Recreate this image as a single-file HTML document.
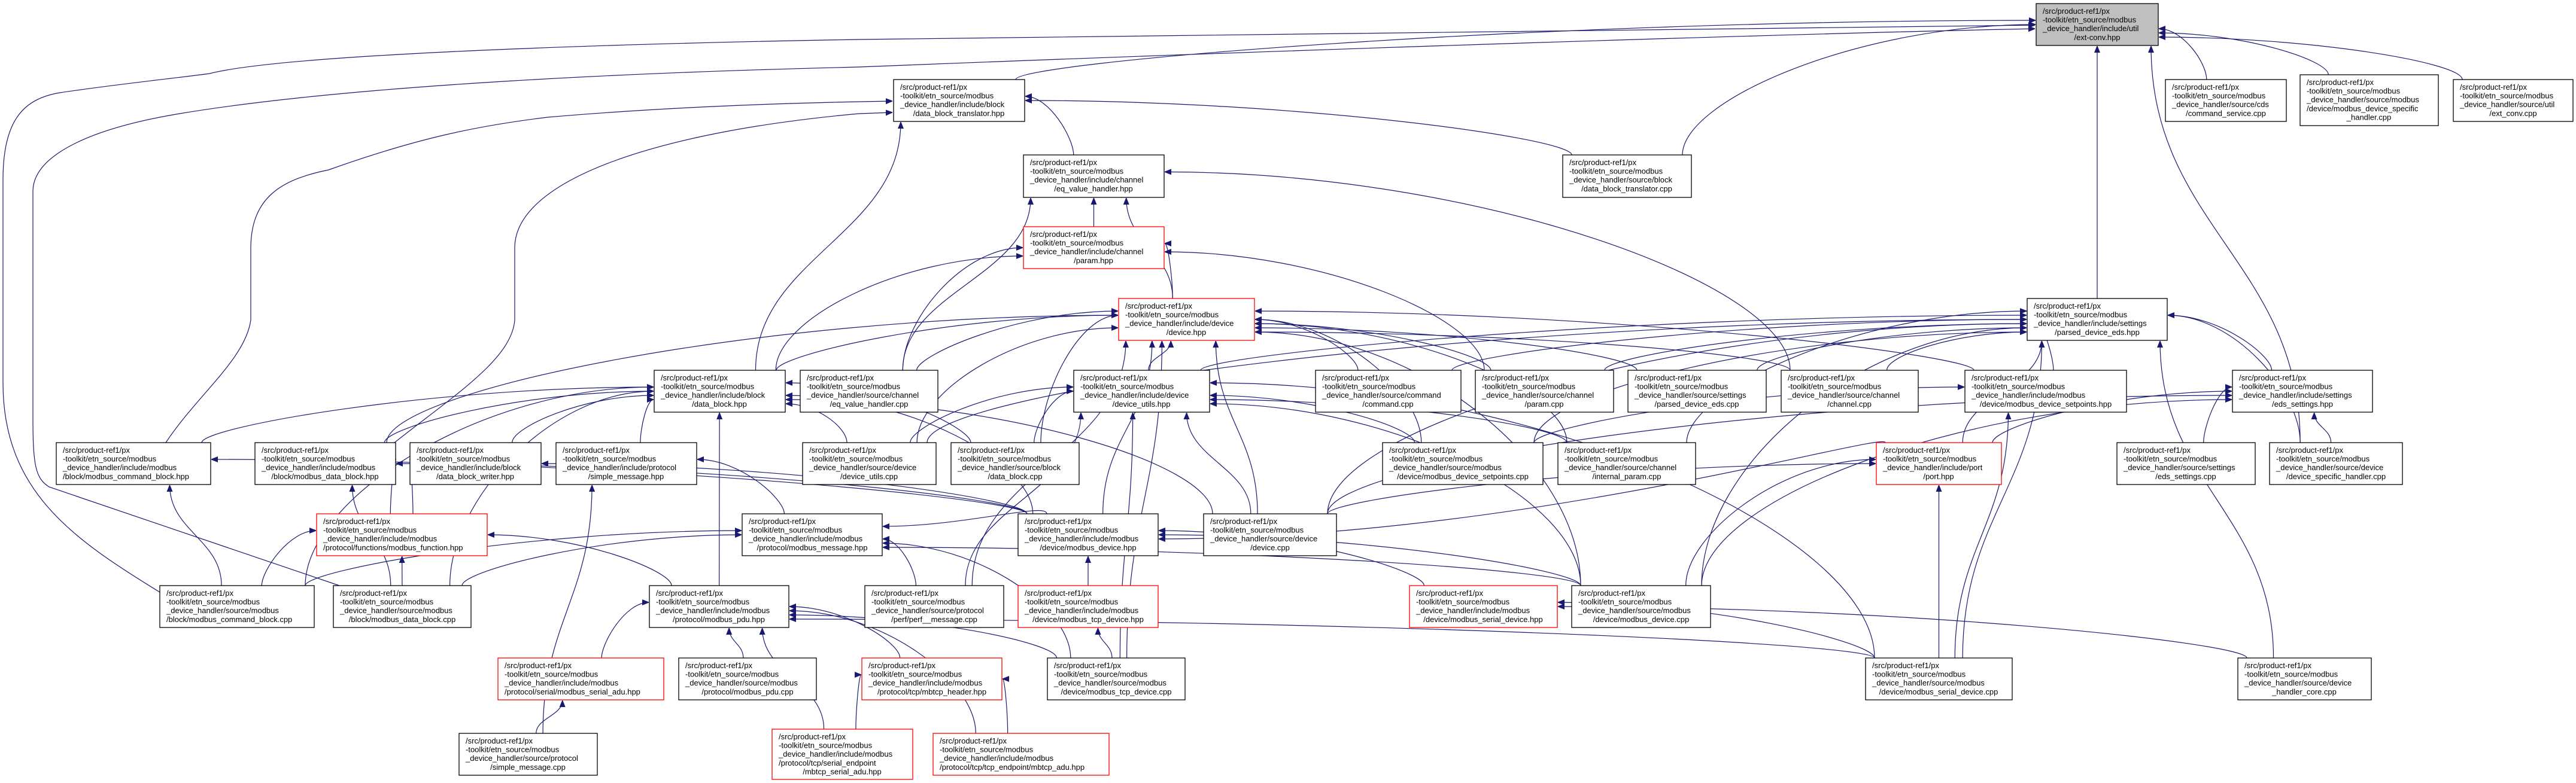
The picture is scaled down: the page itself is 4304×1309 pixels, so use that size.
<!DOCTYPE html>
<html><head><meta charset="utf-8"><style>
html,body{margin:0;padding:0;background:#fff;}
svg{display:block;}
text{font-family:"Liberation Sans",sans-serif;font-size:13px;fill:#000;}
.b{fill:#fff;stroke:#000;stroke-width:1.3;}
.r{fill:#fff;stroke:#ff0000;stroke-width:1.3;}
.g{fill:#bfbfbf;stroke:#000;stroke-width:1.3;}
.e{fill:none;stroke:#191970;stroke-width:1.2;}
</style></head><body>
<svg id="s" width="4304" height="1309" viewBox="0 0 4304 1309" xmlns="http://www.w3.org/2000/svg">
<defs><marker id="a" viewBox="0 0 10 10" refX="10" refY="5" markerWidth="11" markerHeight="11" markerUnits="userSpaceOnUse" orient="auto"><path d="M0,1 L10,5 L0,9 z" fill="#191970" stroke="#191970"/></marker></defs>
<g id="custom">
<path class="e" marker-end="url(#a)" d="M267,990 C120,900 5,820 5,640 L5,300 C5,200 40,165 100,155 C200,140 300,130 350,123 C500,85 1200,70 1435,66 C2500,48 3200,42 3400,42"/>
<path class="e" marker-end="url(#a)" d="M567,979 L82,814 C60,800 55,780 55,700 L55,320 C55,260 150,215 300,190 C600,140 1100,120 1435,112 C2500,70 3200,52 3400,48"/>
<path class="e" marker-end="url(#a)" d="M277,740 C330,660 410,600 419,535 L419,413 C420,330 470,300 549,284 C700,230 800,210 915,196 C1100,180 1300,172 1491,169"/>
<path class="e" marker-end="url(#a)" d="M659,740 C760,660 855,600 860,535 L860,413 C862,300 1100,220 1435,190 L1491,188"/>
</g>
<g id="edges"></g>
<g id="nodes">
<rect class="g" x="3402" y="6" width="204" height="70"/><text x="3413" y="23">/src/product-ref1/px</text><text x="3413" y="37.6">-toolkit/etn_source/modbus</text><text x="3413" y="52.2">_device_handler/include/util</text><text x="3504" y="66.8" text-anchor="middle">/ext-conv.hpp</text>
<rect class="b" x="1493" y="133" width="219" height="70"/><text x="1504" y="150">/src/product-ref1/px</text><text x="1504" y="164.6">-toolkit/etn_source/modbus</text><text x="1504" y="179.2">_device_handler/include/block</text><text x="1602" y="193.8" text-anchor="middle">/data_block_translator.hpp</text>
<rect class="b" x="3618" y="133" width="202" height="70"/><text x="3629" y="150">/src/product-ref1/px</text><text x="3629" y="164.6">-toolkit/etn_source/modbus</text><text x="3629" y="179.2">_device_handler/source/cds</text><text x="3719" y="193.8" text-anchor="middle">/command_service.cpp</text>
<rect class="b" x="3843" y="125" width="231" height="85"/><text x="3854" y="142">/src/product-ref1/px</text><text x="3854" y="156.6">-toolkit/etn_source/modbus</text><text x="3854" y="171.2">_device_handler/source/modbus</text><text x="3854" y="185.8">/device/modbus_device_specific</text><text x="3958" y="200.4" text-anchor="middle">_handler.cpp</text>
<rect class="b" x="4099" y="133" width="200" height="70"/><text x="4110" y="150">/src/product-ref1/px</text><text x="4110" y="164.6">-toolkit/etn_source/modbus</text><text x="4110" y="179.2">_device_handler/source/util</text><text x="4199" y="193.8" text-anchor="middle">/ext_conv.cpp</text>
<rect class="b" x="1710" y="259" width="235" height="71"/><text x="1721" y="276">/src/product-ref1/px</text><text x="1721" y="290.6">-toolkit/etn_source/modbus</text><text x="1721" y="305.2">_device_handler/include/channel</text><text x="1827" y="319.8" text-anchor="middle">/eq_value_handler.hpp</text>
<rect class="b" x="2611" y="259" width="215" height="71"/><text x="2622" y="276">/src/product-ref1/px</text><text x="2622" y="290.6">-toolkit/etn_source/modbus</text><text x="2622" y="305.2">_device_handler/source/block</text><text x="2718" y="319.8" text-anchor="middle">/data_block_translator.cpp</text>
<rect class="r" x="1710" y="379" width="235" height="70"/><text x="1721" y="396">/src/product-ref1/px</text><text x="1721" y="410.6">-toolkit/etn_source/modbus</text><text x="1721" y="425.2">_device_handler/include/channel</text><text x="1827" y="439.8" text-anchor="middle">/param.hpp</text>
<rect class="r" x="1869" y="499" width="227" height="70"/><text x="1880" y="516">/src/product-ref1/px</text><text x="1880" y="530.6">-toolkit/etn_source/modbus</text><text x="1880" y="545.2">_device_handler/include/device</text><text x="1982" y="559.8" text-anchor="middle">/device.hpp</text>
<rect class="b" x="3387" y="499" width="234" height="70"/><text x="3398" y="516">/src/product-ref1/px</text><text x="3398" y="530.6">-toolkit/etn_source/modbus</text><text x="3398" y="545.2">_device_handler/include/settings</text><text x="3504" y="559.8" text-anchor="middle">/parsed_device_eds.hpp</text>
<rect class="b" x="1093" y="619" width="219" height="70"/><text x="1104" y="636">/src/product-ref1/px</text><text x="1104" y="650.6">-toolkit/etn_source/modbus</text><text x="1104" y="665.2">_device_handler/include/block</text><text x="1202" y="679.8" text-anchor="middle">/data_block.hpp</text>
<rect class="b" x="1337" y="619" width="230" height="70"/><text x="1348" y="636">/src/product-ref1/px</text><text x="1348" y="650.6">-toolkit/etn_source/modbus</text><text x="1348" y="665.2">_device_handler/source/channel</text><text x="1452" y="679.8" text-anchor="middle">/eq_value_handler.cpp</text>
<rect class="b" x="1794" y="619" width="227" height="70"/><text x="1805" y="636">/src/product-ref1/px</text><text x="1805" y="650.6">-toolkit/etn_source/modbus</text><text x="1805" y="665.2">_device_handler/include/device</text><text x="1907" y="679.8" text-anchor="middle">/device_utils.hpp</text>
<rect class="b" x="2198" y="619" width="243" height="70"/><text x="2209" y="636">/src/product-ref1/px</text><text x="2209" y="650.6">-toolkit/etn_source/modbus</text><text x="2209" y="665.2">_device_handler/source/command</text><text x="2319" y="679.8" text-anchor="middle">/command.cpp</text>
<rect class="b" x="2465" y="619" width="231" height="70"/><text x="2476" y="636">/src/product-ref1/px</text><text x="2476" y="650.6">-toolkit/etn_source/modbus</text><text x="2476" y="665.2">_device_handler/source/channel</text><text x="2580" y="679.8" text-anchor="middle">/param.cpp</text>
<rect class="b" x="2720" y="619" width="231" height="70"/><text x="2731" y="636">/src/product-ref1/px</text><text x="2731" y="650.6">-toolkit/etn_source/modbus</text><text x="2731" y="665.2">_device_handler/source/settings</text><text x="2835" y="679.8" text-anchor="middle">/parsed_device_eds.cpp</text>
<rect class="b" x="2976" y="619" width="229" height="70"/><text x="2987" y="636">/src/product-ref1/px</text><text x="2987" y="650.6">-toolkit/etn_source/modbus</text><text x="2987" y="665.2">_device_handler/source/channel</text><text x="3090" y="679.8" text-anchor="middle">/channel.cpp</text>
<rect class="b" x="3283" y="619" width="270" height="70"/><text x="3294" y="636">/src/product-ref1/px</text><text x="3294" y="650.6">-toolkit/etn_source/modbus</text><text x="3294" y="665.2">_device_handler/include/modbus</text><text x="3418" y="679.8" text-anchor="middle">/device/modbus_device_setpoints.hpp</text>
<rect class="b" x="3730" y="619" width="234" height="70"/><text x="3741" y="636">/src/product-ref1/px</text><text x="3741" y="650.6">-toolkit/etn_source/modbus</text><text x="3741" y="665.2">_device_handler/include/settings</text><text x="3847" y="679.8" text-anchor="middle">/eds_settings.hpp</text>
<rect class="b" x="94" y="740" width="258" height="70"/><text x="105" y="757">/src/product-ref1/px</text><text x="105" y="771.6">-toolkit/etn_source/modbus</text><text x="105" y="786.2">_device_handler/include/modbus</text><text x="105" y="800.8">/block/modbus_command_block.hpp</text>
<rect class="b" x="426" y="740" width="235" height="70"/><text x="437" y="757">/src/product-ref1/px</text><text x="437" y="771.6">-toolkit/etn_source/modbus</text><text x="437" y="786.2">_device_handler/include/modbus</text><text x="543" y="800.8" text-anchor="middle">/block/modbus_data_block.hpp</text>
<rect class="b" x="685" y="740" width="219" height="70"/><text x="696" y="757">/src/product-ref1/px</text><text x="696" y="771.6">-toolkit/etn_source/modbus</text><text x="696" y="786.2">_device_handler/include/block</text><text x="794" y="800.8" text-anchor="middle">/data_block_writer.hpp</text>
<rect class="b" x="929" y="740" width="235" height="70"/><text x="940" y="757">/src/product-ref1/px</text><text x="940" y="771.6">-toolkit/etn_source/modbus</text><text x="940" y="786.2">_device_handler/include/protocol</text><text x="1046" y="800.8" text-anchor="middle">/simple_message.hpp</text>
<rect class="b" x="1341" y="740" width="223" height="70"/><text x="1352" y="757">/src/product-ref1/px</text><text x="1352" y="771.6">-toolkit/etn_source/modbus</text><text x="1352" y="786.2">_device_handler/source/device</text><text x="1452" y="800.8" text-anchor="middle">/device_utils.cpp</text>
<rect class="b" x="1589" y="740" width="214" height="70"/><text x="1600" y="757">/src/product-ref1/px</text><text x="1600" y="771.6">-toolkit/etn_source/modbus</text><text x="1600" y="786.2">_device_handler/source/block</text><text x="1696" y="800.8" text-anchor="middle">/data_block.cpp</text>
<rect class="b" x="2310" y="740" width="268" height="70"/><text x="2321" y="757">/src/product-ref1/px</text><text x="2321" y="771.6">-toolkit/etn_source/modbus</text><text x="2321" y="786.2">_device_handler/source/modbus</text><text x="2444" y="800.8" text-anchor="middle">/device/modbus_device_setpoints.cpp</text>
<rect class="b" x="2603" y="740" width="230" height="70"/><text x="2614" y="757">/src/product-ref1/px</text><text x="2614" y="771.6">-toolkit/etn_source/modbus</text><text x="2614" y="786.2">_device_handler/source/channel</text><text x="2718" y="800.8" text-anchor="middle">/internal_param.cpp</text>
<rect class="r" x="3135" y="740" width="209" height="70"/><text x="3146" y="757">/src/product-ref1/px</text><text x="3146" y="771.6">-toolkit/etn_source/modbus</text><text x="3146" y="786.2">_device_handler/include/port</text><text x="3239" y="800.8" text-anchor="middle">/port.hpp</text>
<rect class="b" x="3537" y="740" width="231" height="70"/><text x="3548" y="757">/src/product-ref1/px</text><text x="3548" y="771.6">-toolkit/etn_source/modbus</text><text x="3548" y="786.2">_device_handler/source/settings</text><text x="3652" y="800.8" text-anchor="middle">/eds_settings.cpp</text>
<rect class="b" x="3792" y="740" width="222" height="70"/><text x="3803" y="757">/src/product-ref1/px</text><text x="3803" y="771.6">-toolkit/etn_source/modbus</text><text x="3803" y="786.2">_device_handler/source/device</text><text x="3903" y="800.8" text-anchor="middle">/device_specific_handler.cpp</text>
<rect class="r" x="529" y="859" width="285" height="70"/><text x="540" y="876">/src/product-ref1/px</text><text x="540" y="890.6">-toolkit/etn_source/modbus</text><text x="540" y="905.2">_device_handler/include/modbus</text><text x="540" y="919.8">/protocol/functions/modbus_function.hpp</text>
<rect class="b" x="1240" y="859" width="234" height="70"/><text x="1251" y="876">/src/product-ref1/px</text><text x="1251" y="890.6">-toolkit/etn_source/modbus</text><text x="1251" y="905.2">_device_handler/include/modbus</text><text x="1357" y="919.8" text-anchor="middle">/protocol/modbus_message.hpp</text>
<rect class="b" x="1701" y="859" width="234" height="70"/><text x="1712" y="876">/src/product-ref1/px</text><text x="1712" y="890.6">-toolkit/etn_source/modbus</text><text x="1712" y="905.2">_device_handler/include/modbus</text><text x="1818" y="919.8" text-anchor="middle">/device/modbus_device.hpp</text>
<rect class="b" x="2011" y="859" width="222" height="70"/><text x="2022" y="876">/src/product-ref1/px</text><text x="2022" y="890.6">-toolkit/etn_source/modbus</text><text x="2022" y="905.2">_device_handler/source/device</text><text x="2122" y="919.8" text-anchor="middle">/device.cpp</text>
<rect class="b" x="267" y="979" width="258" height="70"/><text x="278" y="996">/src/product-ref1/px</text><text x="278" y="1010.6">-toolkit/etn_source/modbus</text><text x="278" y="1025.2">_device_handler/source/modbus</text><text x="278" y="1039.8">/block/modbus_command_block.cpp</text>
<rect class="b" x="557" y="979" width="230" height="70"/><text x="568" y="996">/src/product-ref1/px</text><text x="568" y="1010.6">-toolkit/etn_source/modbus</text><text x="568" y="1025.2">_device_handler/source/modbus</text><text x="672" y="1039.8" text-anchor="middle">/block/modbus_data_block.cpp</text>
<rect class="b" x="1085" y="979" width="233" height="70"/><text x="1096" y="996">/src/product-ref1/px</text><text x="1096" y="1010.6">-toolkit/etn_source/modbus</text><text x="1096" y="1025.2">_device_handler/include/modbus</text><text x="1201" y="1039.8" text-anchor="middle">/protocol/modbus_pdu.hpp</text>
<rect class="b" x="1445" y="979" width="232" height="70"/><text x="1456" y="996">/src/product-ref1/px</text><text x="1456" y="1010.6">-toolkit/etn_source/modbus</text><text x="1456" y="1025.2">_device_handler/source/protocol</text><text x="1561" y="1039.8" text-anchor="middle">/perf/perf__message.cpp</text>
<rect class="r" x="1701" y="979" width="234" height="70"/><text x="1712" y="996">/src/product-ref1/px</text><text x="1712" y="1010.6">-toolkit/etn_source/modbus</text><text x="1712" y="1025.2">_device_handler/include/modbus</text><text x="1818" y="1039.8" text-anchor="middle">/device/modbus_tcp_device.hpp</text>
<rect class="r" x="2355" y="979" width="247" height="70"/><text x="2366" y="996">/src/product-ref1/px</text><text x="2366" y="1010.6">-toolkit/etn_source/modbus</text><text x="2366" y="1025.2">_device_handler/include/modbus</text><text x="2478" y="1039.8" text-anchor="middle">/device/modbus_serial_device.hpp</text>
<rect class="b" x="2626" y="979" width="232" height="70"/><text x="2637" y="996">/src/product-ref1/px</text><text x="2637" y="1010.6">-toolkit/etn_source/modbus</text><text x="2637" y="1025.2">_device_handler/source/modbus</text><text x="2742" y="1039.8" text-anchor="middle">/device/modbus_device.cpp</text>
<rect class="r" x="832" y="1100" width="277" height="70"/><text x="843" y="1117">/src/product-ref1/px</text><text x="843" y="1131.6">-toolkit/etn_source/modbus</text><text x="843" y="1146.2">_device_handler/include/modbus</text><text x="843" y="1160.8">/protocol/serial/modbus_serial_adu.hpp</text>
<rect class="b" x="1134" y="1100" width="230" height="70"/><text x="1145" y="1117">/src/product-ref1/px</text><text x="1145" y="1131.6">-toolkit/etn_source/modbus</text><text x="1145" y="1146.2">_device_handler/source/modbus</text><text x="1249" y="1160.8" text-anchor="middle">/protocol/modbus_pdu.cpp</text>
<rect class="r" x="1440" y="1100" width="234" height="70"/><text x="1451" y="1117">/src/product-ref1/px</text><text x="1451" y="1131.6">-toolkit/etn_source/modbus</text><text x="1451" y="1146.2">_device_handler/include/modbus</text><text x="1557" y="1160.8" text-anchor="middle">/protocol/tcp/mbtcp_header.hpp</text>
<rect class="b" x="1750" y="1100" width="230" height="70"/><text x="1761" y="1117">/src/product-ref1/px</text><text x="1761" y="1131.6">-toolkit/etn_source/modbus</text><text x="1761" y="1146.2">_device_handler/source/modbus</text><text x="1865" y="1160.8" text-anchor="middle">/device/modbus_tcp_device.cpp</text>
<rect class="b" x="3117" y="1100" width="245" height="70"/><text x="3128" y="1117">/src/product-ref1/px</text><text x="3128" y="1131.6">-toolkit/etn_source/modbus</text><text x="3128" y="1146.2">_device_handler/source/modbus</text><text x="3239" y="1160.8" text-anchor="middle">/device/modbus_serial_device.cpp</text>
<rect class="b" x="3739" y="1100" width="223" height="70"/><text x="3750" y="1117">/src/product-ref1/px</text><text x="3750" y="1131.6">-toolkit/etn_source/modbus</text><text x="3750" y="1146.2">_device_handler/source/device</text><text x="3850" y="1160.8" text-anchor="middle">_handler_core.cpp</text>
<rect class="b" x="767" y="1226" width="231" height="70"/><text x="778" y="1243">/src/product-ref1/px</text><text x="778" y="1257.6">-toolkit/etn_source/modbus</text><text x="778" y="1272.2">_device_handler/source/protocol</text><text x="882" y="1286.8" text-anchor="middle">/simple_message.cpp</text>
<rect class="r" x="1290" y="1219" width="235" height="84"/><text x="1301" y="1236">/src/product-ref1/px</text><text x="1301" y="1250.6">-toolkit/etn_source/modbus</text><text x="1301" y="1265.2">_device_handler/include/modbus</text><text x="1301" y="1279.8">/protocol/tcp/serial_endpoint</text><text x="1407" y="1294.4" text-anchor="middle">/mbtcp_serial_adu.hpp</text>
<rect class="r" x="1559" y="1226" width="294" height="70"/><text x="1570" y="1243">/src/product-ref1/px</text><text x="1570" y="1257.6">-toolkit/etn_source/modbus</text><text x="1570" y="1272.2">_device_handler/include/modbus</text><text x="1570" y="1286.8">/protocol/tcp/tcp_endpoint/mbtcp_adu.hpp</text>
</g>
</svg>
<script>
var N={R:[3402,6,204,70],DBT_H:[1493,133,219,70],CS:[3618,133,202,70],MDSH:[3843,125,231,85],EC:[4099,133,200,70],
EVH_H:[1710,259,235,71],DBT_C:[2611,259,215,71],PARAM_H:[1710,379,235,70],DEV_H:[1869,499,227,70],PDE_H:[3387,499,234,70],
DB_H:[1093,619,219,70],EVH_C:[1337,619,230,70],DU_H:[1794,619,227,70],CMD_C:[2198,619,243,70],PARAM_C:[2465,619,231,70],PDE_C:[2720,619,231,70],CH_C:[2976,619,229,70],MDS_H:[3283,619,270,70],EDS_H:[3730,619,234,70],
MCB_H:[94,740,258,70],MDB_H:[426,740,235,70],DBW_H:[685,740,219,70],SM_H:[929,740,235,70],DU_C:[1341,740,223,70],DB_C:[1589,740,214,70],MDS_C:[2310,740,268,70],IP_C:[2603,740,230,70],PORT_H:[3135,740,209,70],EDS_C:[3537,740,231,70],DSH_C:[3792,740,222,70],
MF_H:[529,859,285,70],MM_H:[1240,859,234,70],MD_H:[1701,859,234,70],DEV_C:[2011,859,222,70],
MCB_C:[267,979,258,70],MDB_C:[557,979,230,70],PDU_H:[1085,979,233,70],PERF_C:[1445,979,232,70],TCP_H:[1701,979,234,70],SER_H:[2355,979,247,70],MD_C:[2626,979,232,70],
SADU_H:[832,1100,277,70],PDU_C:[1134,1100,230,70],MBH_H:[1440,1100,234,70],TCP_C:[1750,1100,230,70],SER_C:[3117,1100,245,70],DHC_C:[3739,1100,223,70],
SM_C:[767,1226,231,70],MSA_H:[1290,1219,235,84],MBA_H:[1559,1226,294,70]};
var E=[
["DBT_H","R"],["DBT_C","R"],["PDE_H","R"],["DSH_C","R"],["CS","R"],["MDSH","R"],["EC","R"],
["EVH_H","DBT_H"],["DBT_C","DBT_H"],["DB_H","DBT_H"],
["PARAM_H","EVH_H"],["DEV_H","EVH_H"],["EVH_C","EVH_H"],["CH_C","EVH_H"],
["DEV_H","PARAM_H"],["EVH_C","PARAM_H"],["PARAM_C","PARAM_H"],["DB_H","PARAM_H"],
["DB_H","DEV_H"],["DU_H","DEV_H"],["CMD_C","DEV_H"],["PARAM_C","DEV_H"],["PDE_C","DEV_H"],["CH_C","DEV_H"],["MDS_H","DEV_H"],["MD_H","DEV_H"],["DEV_C","DEV_H"],["DB_C","DEV_H"],["MDS_C","DEV_H"],["IP_C","DEV_H"],["DU_C","DEV_H"],["MD_C","DEV_H"],["PERF_C","DEV_H"],["TCP_C","DEV_H"],["EVH_C","DEV_H"],["MDB_H","DEV_H"],
["DU_H","PDE_H"],["CMD_C","PDE_H"],["PARAM_C","PDE_H"],["PDE_C","PDE_H"],["CH_C","PDE_H"],["MDS_H","PDE_H"],["EDS_H","PDE_H"],["PORT_H","PDE_H"],["DU_C","PDE_H"],["DEV_C","PDE_H"],["MD_C","PDE_H"],["SER_C","PDE_H"],["DHC_C","PDE_H"],["MDS_C","PDE_H"],["IP_C","PDE_H"],["DSH_C","PDE_H"],
["MCB_H","DB_H"],["MDB_H","DB_H"],["DBW_H","DB_H"],["SM_H","DB_H"],["DU_C","DB_H"],["DB_C","DB_H"],["MCB_C","DB_H"],["MDB_C","DB_H"],["PDU_H","DB_H"],["MD_H","DB_H"],["DEV_C","DB_H"],
["DU_C","DU_H"],["DB_C","DU_H"],["DEV_C","DU_H"],["TCP_C","DU_H"],["MDS_C","DU_H"],["IP_C","DU_H"],["MD_C","DU_H"],["SER_C","DU_H"],["PERF_C","DU_H"],
["MCB_C","MCB_H"],["MD_H","MCB_H"],["MDB_C","MDB_H"],["MF_H","MDB_H"],["MD_H","MDB_H"],["MF_H","DBW_H"],["MD_H","DBW_H"],["MM_H","SM_H"],["SM_C","SM_H"],
["MCB_C","MF_H"],["MDB_C","MF_H"],["PDU_H","MF_H"],
["MCB_C","MM_H"],["MDB_C","MM_H"],["PERF_C","MM_H"],["TCP_C","MM_H"],["MD_C","MM_H"],["MD_H","MM_H"],
["SADU_H","PDU_H"],["PDU_C","PDU_H"],["MBH_H","PDU_H"],["MSA_H","PDU_H"],["MBA_H","PDU_H"],["TCP_C","PDU_H"],["SER_C","PDU_H"],
["SM_C","SADU_H"],["MSA_H","MBH_H"],["MBA_H","MBH_H"],
["TCP_H","MD_H"],["SER_H","MD_H"],["MD_C","MD_H"],["PORT_H","MD_H"],["TCP_C","TCP_H"],["SER_C","SER_H"],["DHC_C","SER_H"],
["SER_C","PORT_H"],["MD_C","PORT_H"],["DEV_C","PORT_H"],["MDS_C","MDS_H"],["SER_C","MDS_H"],["EDS_C","EDS_H"],["DSH_C","EDS_H"],["PORT_H","EDS_H"],["DEV_C","EDS_H"],["MD_C","EDS_H"]
];
var idx={};
var out="";
E.forEach(function(e){
 var s=N[e[0]],t=N[e[1]];
 var scx=s[0]+s[2]/2,tcx=t[0]+t[2]/2;
 var sx=Math.max(s[0]+15,Math.min(s[0]+s[2]-15,scx+(tcx-scx)*0.15)),sy=s[1];
 var tb=t[1]+t[3],dy=sy-tb,dx=scx-tcx,tx,ty,path;
 if(Math.abs(dx)<dy*1.6){
  tx=Math.max(t[0]+12,Math.min(t[0]+t[2]-12,tcx+dx*0.35));ty=tb+1;
  path="M"+sx+","+sy+" C"+sx+","+(sy-dy*0.45)+" "+tx+","+(ty+dy*0.45)+" "+tx+","+ty;
 }else{
  var left=dx<0;tx=left?t[0]-1:t[0]+t[2]+1;
  idx[e[1]]=(idx[e[1]]||0)+1;
  ty=t[1]+t[3]*0.3+(idx[e[1]]%6)*t[3]*0.1;
  var hx=(tx+sx)/2;
  path="M"+sx+","+sy+" C"+sx+","+(sy-Math.max(dy,40)*0.5)+" "+hx+","+ty+" "+tx+","+ty;
 }
 out+='<path class="e" marker-end="url(#a)" d="'+path+'"/>';
});
document.getElementById("edges").innerHTML=out;
</script>
</body></html>
